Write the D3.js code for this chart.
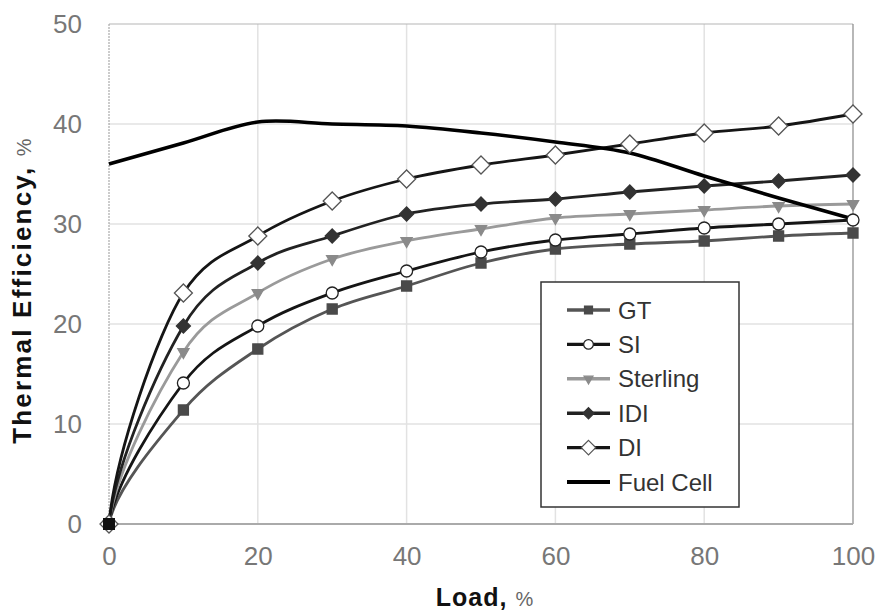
<!DOCTYPE html>
<html>
<head>
<meta charset="utf-8">
<script src="https://cdn.jsdelivr.net/npm/d3@7"></script>
<style>
  body { margin: 0; background: #fff; }
  svg text { font-family: "Liberation Sans", Arial, sans-serif; }
</style>
</head>
<body>
<div id="chart"></div>
<script>
// load points, %
var loads = [0, 10, 20, 30, 40, 50, 60, 70, 80, 90, 100];

// thermal efficiency, %
var gtValues       = [0, 11.4, 17.5, 21.5, 23.8, 26.1, 27.5, 28.0, 28.3, 28.8, 29.1];
var siValues       = [0, 14.1, 19.8, 23.1, 25.3, 27.2, 28.4, 29.0, 29.6, 30.0, 30.4];
var sterlingValues = [0, 17.2, 23.1, 26.5, 28.3, 29.5, 30.6, 31.0, 31.4, 31.8, 32.0];
var idiValues      = [0, 19.8, 26.1, 28.8, 31.0, 32.0, 32.5, 33.2, 33.8, 34.3, 34.9];
var diValues       = [0, 23.1, 28.8, 32.3, 34.5, 35.9, 36.9, 38.0, 39.1, 39.8, 41.0];
var fuelCellValues = [36.0, 38.1, 40.2, 40.0, 39.8, 39.1, 38.2, 37.1, 34.8, 32.6, 30.5];

var seriesNames = ["GT", "SI", "Sterling", "IDI", "DI", "Fuel Cell"];
var xTicks = [0, 20, 40, 60, 80, 100];
var yTicks = [0, 10, 20, 30, 40, 50];

var series = [
  { name: "GT",        values: gtValues,       line: "#555", width: 2.8, marker: "square",   fill: "#4a4a4a", stroke: "#4a4a4a", size: 10 },
  { name: "SI",        values: siValues,       line: "#151515", width: 2.8, marker: "circle", fill: "#fff", stroke: "#222", size: 12 },
  { name: "Sterling",  values: sterlingValues, line: "#9a9a9a", width: 2.8, marker: "triangle", fill: "#8a8a8a", stroke: "#8a8a8a", size: 11 },
  { name: "IDI",       values: idiValues,      line: "#222", width: 2.8, marker: "diamond",  fill: "#333", stroke: "#333", size: 14 },
  { name: "DI",        values: diValues,       line: "#151515", width: 2.8, marker: "diamond", fill: "#fff", stroke: "#555", size: 18 },
  { name: "Fuel Cell", values: fuelCellValues, line: "#000", width: 3.6, marker: null }
];

var W = 880, H = 616;
var plot = { left: 109, right: 853, top: 24, bottom: 524 };

var svg = d3.select("#chart").append("svg")
  .attr("width", W)
  .attr("height", H);

var x = d3.scaleLinear().domain([0, 100]).range([plot.left, plot.right]);
var y = d3.scaleLinear().domain([0, 50]).range([plot.bottom, plot.top]);

// grid
svg.append("g")
  .selectAll("line.hgrid")
  .data(yTicks.slice(1, -1))
  .enter().append("line")
  .attr("x1", plot.left).attr("x2", plot.right)
  .attr("y1", d => y(d)).attr("y2", d => y(d))
  .style("stroke", "#e2e2e2").style("stroke-width", 1.5);

svg.append("g")
  .selectAll("line.vgrid")
  .data(xTicks.slice(1, -1))
  .enter().append("line")
  .attr("x1", d => x(d)).attr("x2", d => x(d))
  .attr("y1", plot.top).attr("y2", plot.bottom)
  .style("stroke", "#e2e2e2").style("stroke-width", 1.5);

// frame
svg.append("line").attr("x1", plot.left).attr("x2", plot.right).attr("y1", plot.top).attr("y2", plot.top)
  .style("stroke", "#b5b5b5").style("stroke-width", 1);
svg.append("line").attr("x1", plot.right).attr("x2", plot.right).attr("y1", plot.top).attr("y2", plot.bottom)
  .style("stroke", "#888").style("stroke-width", 1.2);
svg.append("line").attr("x1", plot.left).attr("x2", plot.left).attr("y1", plot.top).attr("y2", plot.bottom)
  .style("stroke", "#999").style("stroke-width", 1).style("stroke-dasharray", "2,1");
svg.append("line").attr("x1", plot.left).attr("x2", plot.right).attr("y1", plot.bottom).attr("y2", plot.bottom)
  .style("stroke", "#aaa").style("stroke-width", 2);

// axes (labels only)
var yAxis = svg.append("g")
  .attr("transform", "translate(" + plot.left + ",0)")
  .call(d3.axisLeft(y).tickValues(yTicks).tickSize(0).tickPadding(27));
var xAxis = svg.append("g")
  .attr("transform", "translate(0," + plot.bottom + ")")
  .call(d3.axisBottom(x).tickValues(xTicks).tickSize(0).tickPadding(23));
[yAxis, xAxis].forEach(function(g) {
  g.select(".domain").remove();
  g.selectAll("text")
    .style("font-family", "'Liberation Sans', Arial, sans-serif")
    .style("font-size", "26px")
    .style("fill", "#777");
});

// tangent helpers (pixel space, uniform x spacing)
function catmullTangents(pts) {
  var n = pts.length;
  return pts.map(function(p, i) {
    var a = pts[Math.max(i - 1, 0)], b = pts[Math.min(i + 1, n - 1)];
    return (b[1] - a[1]) / (b[0] - a[0]);
  });
}

function monotoneTangents(pts) {
  var n = pts.length, t = [];
  for (var i = 1; i < n - 1; i++) {
    var s0 = (pts[i][1] - pts[i - 1][1]) / (pts[i][0] - pts[i - 1][0]);
    var s1 = (pts[i + 1][1] - pts[i][1]) / (pts[i + 1][0] - pts[i][0]);
    var p = (s0 + s1) / 2;
    t[i] = (Math.sign(s0) + Math.sign(s1)) * Math.min(Math.abs(s0), Math.abs(s1), 0.5 * Math.abs(p));
  }
  var sl = (pts[n - 1][1] - pts[n - 2][1]) / (pts[n - 1][0] - pts[n - 2][0]);
  t[n - 1] = (3 * sl - t[n - 2]) / 2;
  t[0] = 0;
  return t;
}

// smooth line; engine curves rise steeply out of the origin
function smoothPath(pts, steepStart) {
  var n = pts.length;
  var t = steepStart ? monotoneTangents(pts) : catmullTangents(pts);
  var d = "M" + pts[0][0] + "," + pts[0][1];
  for (var i = 0; i < n - 1; i++) {
    var p0 = pts[i], p1 = pts[i + 1];
    var h = (p1[0] - p0[0]) / 3;
    var c1 = [p0[0] + h, p0[1] + h * t[i]];
    if (i === 0 && steepStart) c1 = [p0[0] + (p1[0] - p0[0]) * 0.08, p0[1] + (p1[1] - p0[1]) * 0.3];
    var c2 = [p1[0] - h, p1[1] - h * t[i + 1]];
    d += "C" + c1[0] + "," + c1[1] + " " + c2[0] + "," + c2[1] + " " + p1[0] + "," + p1[1];
  }
  return d;
}

function markerPath(type, size) {
  if (type === "square") return d3.symbol(d3.symbolSquare, size * size)();
  if (type === "circle") return d3.symbol(d3.symbolCircle, Math.PI * size * size / 4)();
  if (type === "triangle") return d3.symbol(d3.symbolTriangle, size * size * 0.45)();
  if (type === "diamond") {
    var h = size / 2;
    return "M0," + (-h) + "L" + h + ",0L0," + h + "L" + (-h) + ",0Z";
  }
  return null;
}

function markerTransform(s, px, py) {
  return "translate(" + px + "," + py + ")" + (s.marker === "triangle" ? " rotate(180)" : "");
}

var lines = svg.append("g");
series.forEach(function(s) {
  var pts = s.values.map(function(v, i) { return [x(loads[i]), y(v)]; });
  lines.append("path")
    .attr("d", smoothPath(pts, s.values[0] === 0))
    .style("fill", "none")
    .style("stroke", s.line)
    .style("stroke-width", s.width)
    .style("stroke-linejoin", "round");
});

series.forEach(function(s) {
  if (!s.marker) return;
  lines.append("g")
    .selectAll("path")
    .data(s.values)
    .enter().append("path")
    .attr("d", markerPath(s.marker, s.size))
    .attr("transform", (d, i) => markerTransform(s, x(loads[i]), y(d)))
    .style("fill", s.fill)
    .style("stroke", s.stroke)
    .style("stroke-width", 1.3);
});

// origin square drawn on top
lines.append("path")
  .attr("d", markerPath("square", 12))
  .attr("transform", "translate(" + x(0) + "," + y(0) + ")")
  .style("fill", "#111");

// legend
var legend = svg.append("g");
legend.append("rect")
  .attr("x", 541).attr("y", 282)
  .attr("width", 198).attr("height", 225)
  .style("fill", "#fff").style("stroke", "#333").style("stroke-width", 1.5);

series.forEach(function(s, i) {
  var ly = 310 + i * 34.4;
  legend.append("line")
    .attr("x1", 567).attr("x2", 610)
    .attr("y1", ly).attr("y2", ly)
    .style("stroke", s.line)
    .style("stroke-width", s.marker ? 3.4 : 4);
  if (s.marker) {
    legend.append("path")
      .attr("d", markerPath(s.marker, s.size * 0.8))
      .attr("transform", markerTransform(s, 588.5, ly))
      .style("fill", s.fill)
      .style("stroke", s.stroke)
      .style("stroke-width", 1.2);
  }
  legend.append("text")
    .attr("x", 618).attr("y", ly)
    .attr("dy", "0.36em")
    .style("font-size", "24px")
    .style("fill", "#333")
    .text(seriesNames[i]);
});

// axis titles
var yTitle = svg.append("text")
  .attr("transform", "translate(31,290) rotate(-90)")
  .attr("text-anchor", "middle")
  .style("font-size", "26px")
  .style("font-weight", "bold")
  .style("letter-spacing", "2.2px")
  .style("fill", "#111");
yTitle.append("tspan").text("Thermal Efficiency, ");
yTitle.append("tspan").style("font-size", "20px").style("font-weight", "normal").style("fill", "#666").text("%");

var xTitle = svg.append("text")
  .attr("x", 485).attr("y", 606)
  .attr("text-anchor", "middle")
  .style("font-size", "25px")
  .style("font-weight", "bold")
  .style("letter-spacing", "1px")
  .style("fill", "#111");
xTitle.append("tspan").text("Load, ");
xTitle.append("tspan").style("font-size", "20px").style("font-weight", "normal").style("fill", "#666").text("%");
</script>
</body>
</html>
